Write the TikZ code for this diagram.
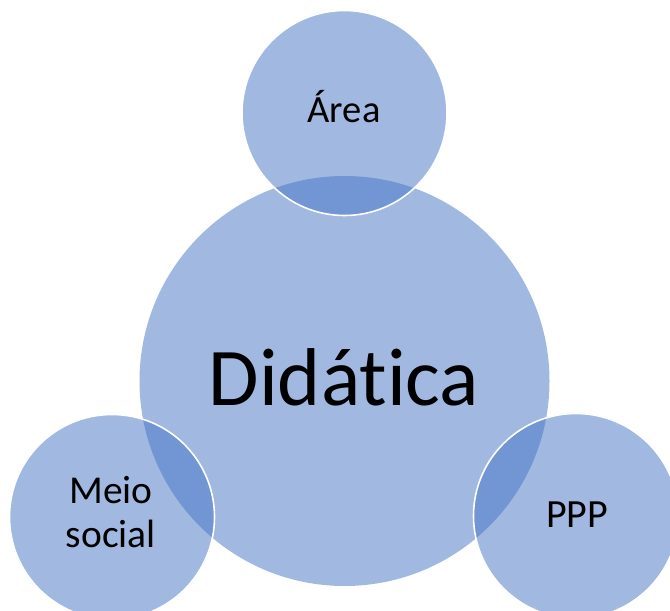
\documentclass[tikz,border=0pt]{standalone}
\usepackage{fontspec}
\setmainfont[Ligatures=NoCommon]{Carlito}
\definecolor{accent}{RGB}{68,114,196}
\begin{document}
\begin{tikzpicture}[x=1bp,y=-1bp,
  bubble/.style={circle, inner sep=0pt, outer sep=0pt, fill=accent, fill opacity=0.5},
  small/.style={bubble, minimum size=205bp, draw=white, draw opacity=1, line width=1.6bp},
  big/.style={bubble, minimum size=410bp},
  lbl/.style={anchor=base, inner sep=0pt, text=black, align=center}]
\useasboundingbox (0,0) rectangle (670,611);
\clip (0,0) rectangle (670,611);
\node[big] (did) at (344.5,381) {};
\node[small] (area) at (344.5,113) {};
\node[small] (meio) at (112,517) {};
\node[small] (ppp) at (576,516) {};
\node[lbl, font=\fontsize{82bp}{98bp}\selectfont] (tdid) at (344,405) {Didática};
\node[lbl, font=\fontsize{38.5bp}{44bp}\selectfont] (tarea) at (344,123) {Área};
\node[lbl, font=\fontsize{39.5bp}{44bp}\selectfont] (tmeio) at (111,547.5) {Meio\\social};
\node[lbl, font=\fontsize{40bp}{44bp}\selectfont] (tppp) at (577,527) {PPP};
\end{tikzpicture}
\end{document}
